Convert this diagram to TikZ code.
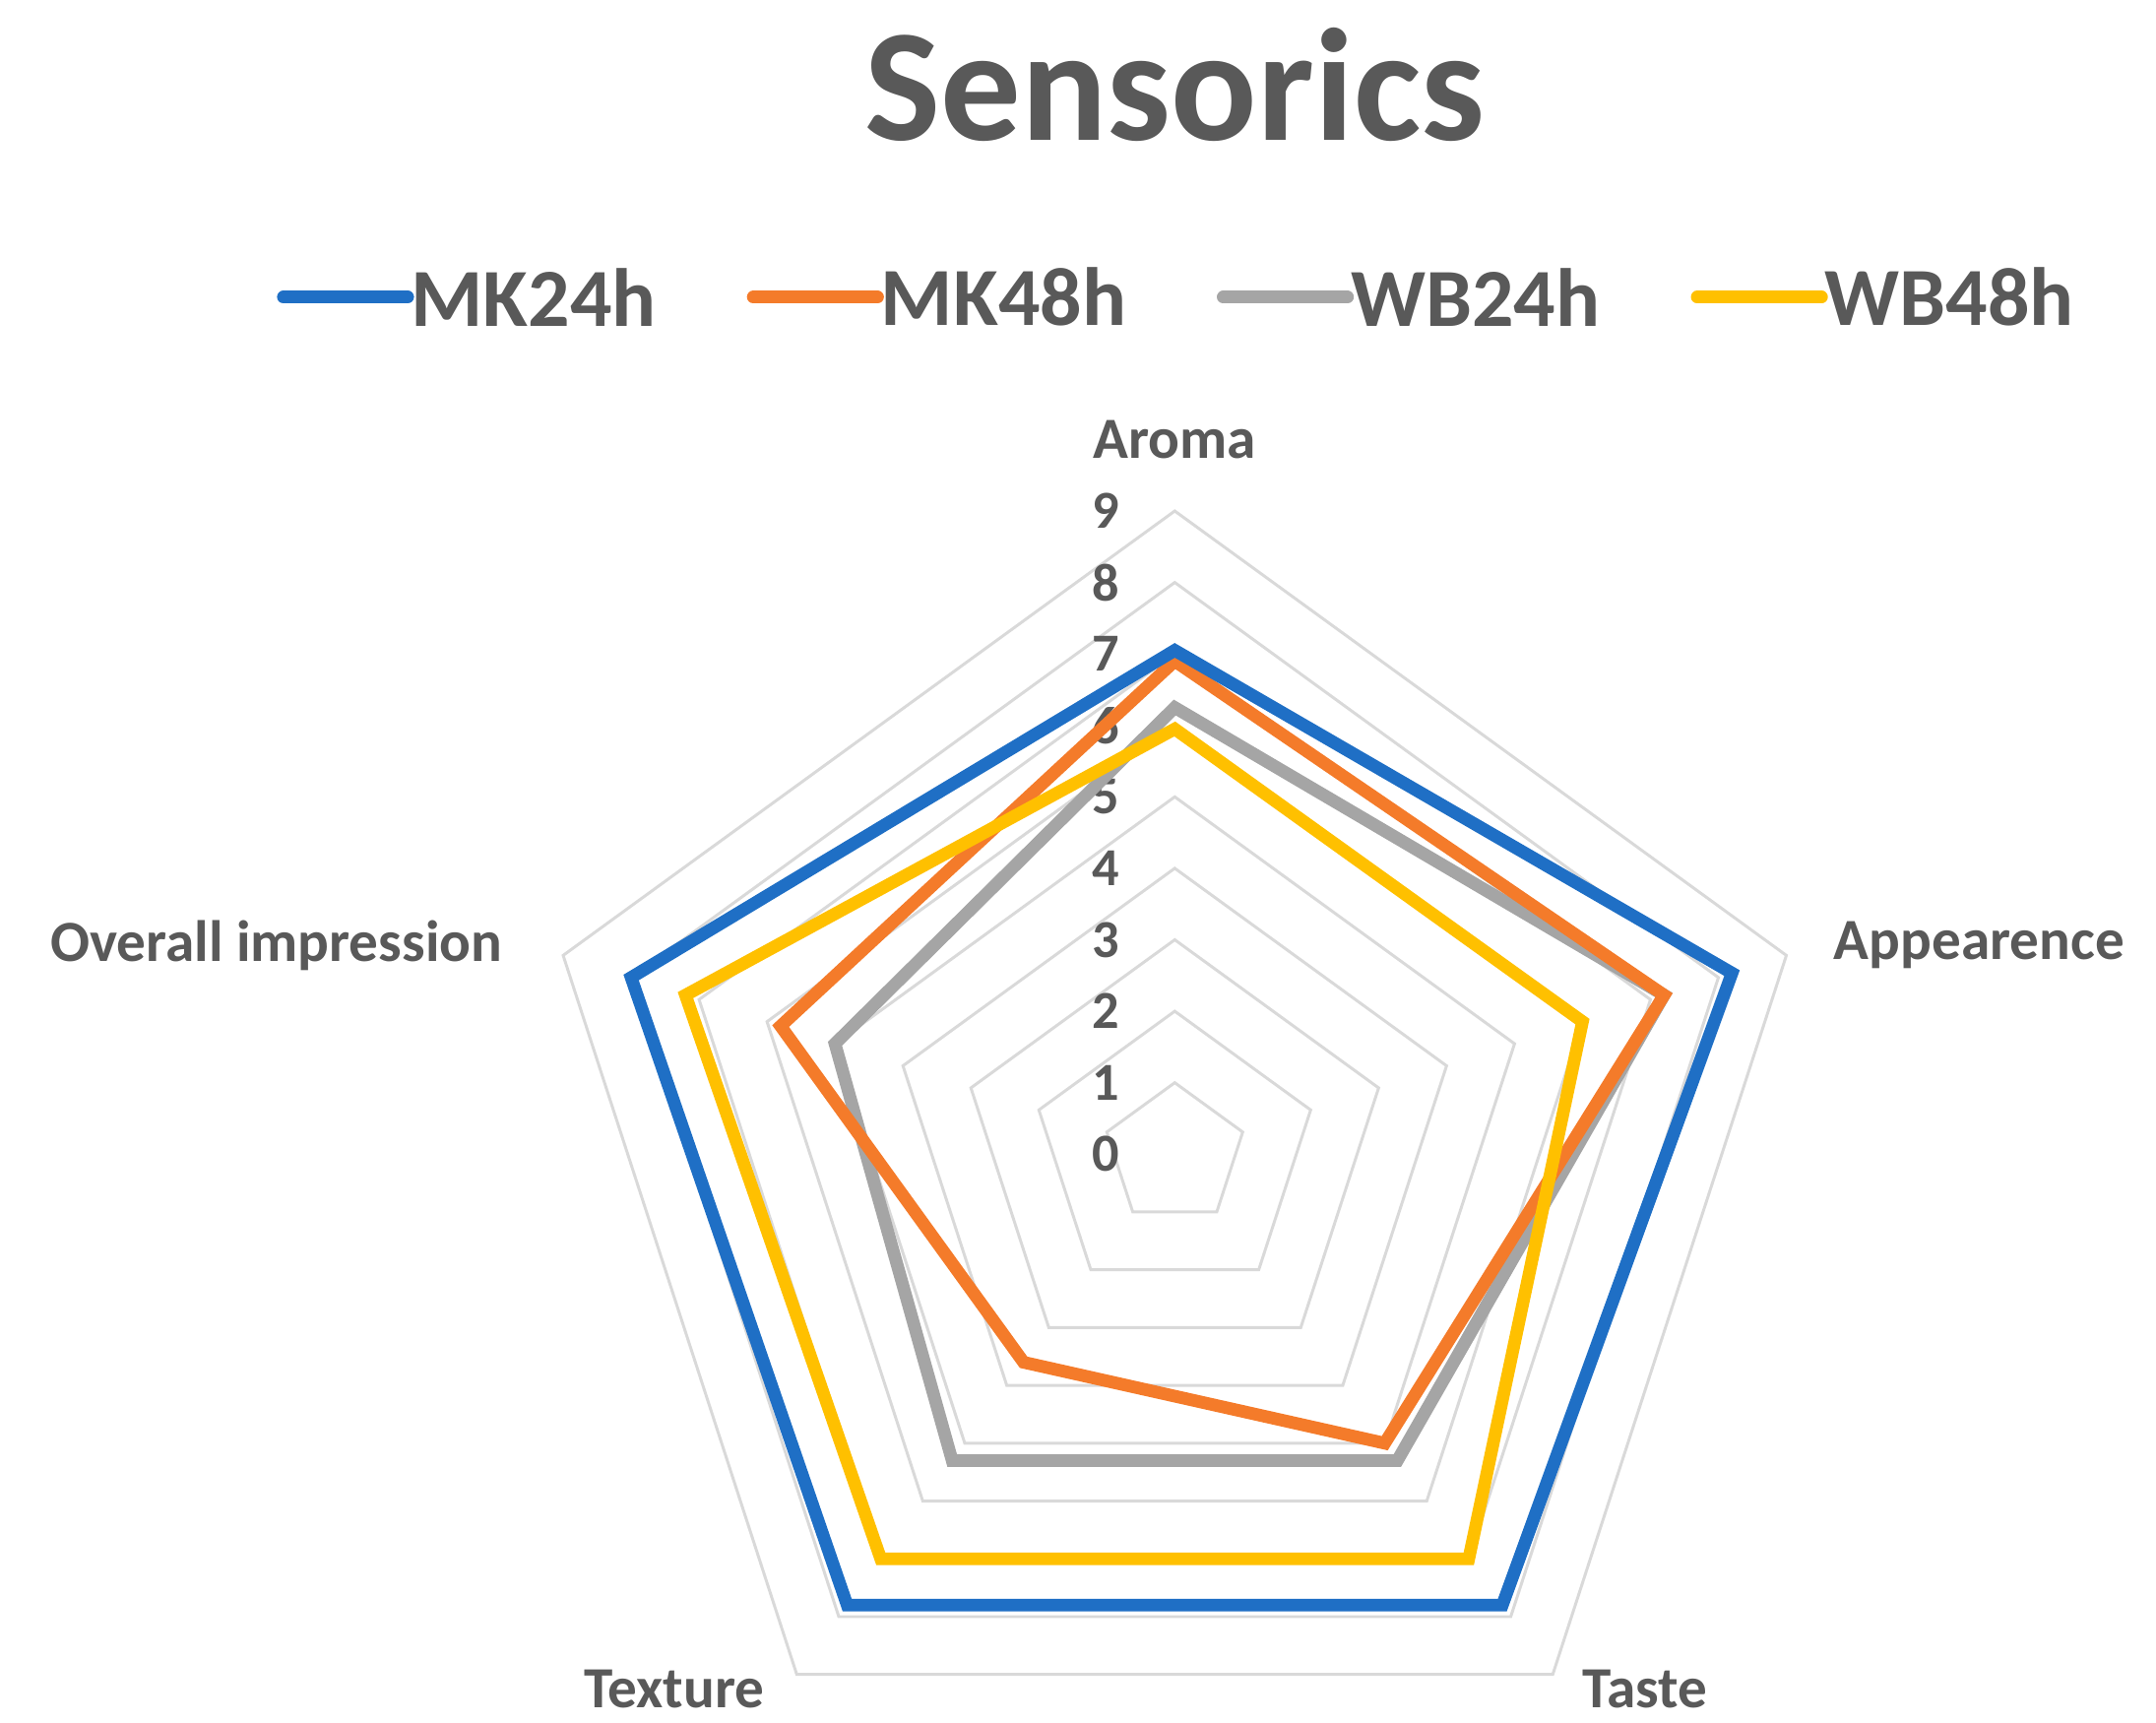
\documentclass[tikz,border=0pt]{standalone}
\usepackage{fontspec}
\setmainfont{Carlito}
\usetikzlibrary{positioning, calc}
\definecolor{mkblue}{HTML}{1F6FC5}
\definecolor{mkorange}{HTML}{F47B2A}
\definecolor{wbgray}{HTML}{A5A5A5}
\definecolor{wbgold}{HTML}{FFC000}
\definecolor{txtgray}{HTML}{595959}
\def \unitrad {0.517}
\tikzset{
  grid/.style = {draw = black!15, line width = 0.6pt},
  series/.style = {line width = 2.6pt, line join = miter},
  axlabel/.style = {text = txtgray, font = \bfseries\fontsize{12}{14}\selectfont},
  tick/.style = {text = txtgray, font = \bfseries\fontsize{11}{13}\selectfont},
  legtext/.style = {text = txtgray, font = \bfseries\fontsize{17}{20}\selectfont, anchor = west}
}

\begin{document}
\begin{tikzpicture}
\useasboundingbox (0,0) rectangle (15.6,12.46);

\node (title) [text = txtgray, font = \bfseries\fontsize{33}{38}\selectfont] at (8.5,11.85) {Sensorics};

% legend
\foreach \name/\col/\x in {MK24h/mkblue/2.05, MK48h/mkorange/5.45, WB24h/wbgray/8.85, WB48h/wbgold/12.28} {
  \coordinate (leg\name) at (\x,10.31);
  \node (lt\name) [legtext, right = 0.9cm of leg\name, inner sep = 0.5pt] {\name};
  \draw[\col, line width = 2.6pt, line cap = round] (leg\name) -- (lt\name.west);
}

\coordinate (c) at (8.5,4.11);

% grid rings
\foreach \r in {1,...,9}
  \draw[grid] ($(c)+(90:\r*\unitrad)$) -- ($(c)+(18:\r*\unitrad)$) -- ($(c)+(-54:\r*\unitrad)$) -- ($(c)+(-126:\r*\unitrad)$) -- ($(c)+(162:\r*\unitrad)$) -- cycle;

% ticks
\foreach \v in {0,...,9}
  \node (tick\v) [tick] at ($(c)+(-0.5,\v*\unitrad)$) {\v};

% axis labels
\node (aroma) [axlabel] at (8.5,9.28) {Aroma};
\node (appear) [axlabel] at (14.32,5.62) {Appearence};
\node (taste) [axlabel] at (11.9,0.24) {Taste};
\node (texture) [axlabel] at (4.88,0.24) {Texture};
\node (overall) [axlabel] at (2.0,5.62) {Overall impression};

% series
\foreach \col/\a/\b/\t/\u/\o in {
  wbgray/6.25/7.2/5.3/5.3/5.0,
  mkorange/6.9/7.2/5.0/3.6/5.8,
  wbgold/5.95/6.0/7.0/7.0/7.2,
  mkblue/7.05/8.2/7.8/7.8/8.0}
  \draw[series, \col] ($(c)+(90:\a*\unitrad)$) -- ($(c)+(18:\b*\unitrad)$) -- ($(c)+(-54:\t*\unitrad)$) -- ($(c)+(-126:\u*\unitrad)$) -- ($(c)+(162:\o*\unitrad)$) -- cycle;

\end{tikzpicture}
\end{document}
